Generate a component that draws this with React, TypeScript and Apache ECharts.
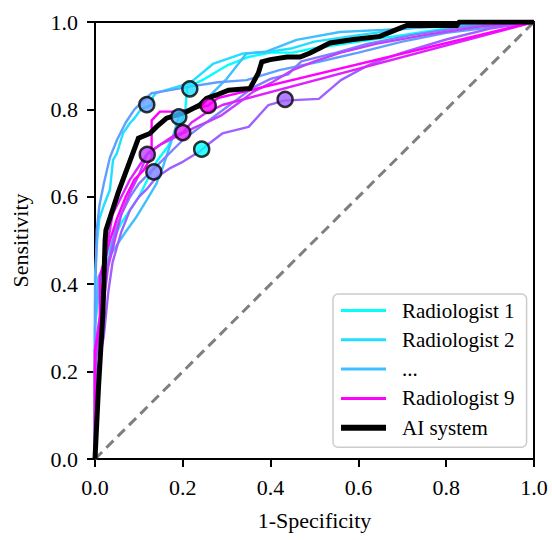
import { useEffect, useRef } from "react";
import * as echarts from "echarts";

// ---- data ----
const radiologistNames = [
  "Radiologist 1",
  "Radiologist 2",
  "...",
  "Radiologist 4",
  "Radiologist 5",
  "Radiologist 6",
  "Radiologist 7",
  "Radiologist 8",
  "Radiologist 9",
];
const radiologistColors = [
  "#00ffff",
  "#20dfff",
  "#40bfff",
  "#609fff",
  "#807fff",
  "#9f60ff",
  "#bf40ff",
  "#df20ff",
  "#ff00ff",
];

const radiologist1 = [
  [0, 0], [0, 0.3], [0.01, 0.4], [0.02, 0.45], [0.04, 0.5], [0.06, 0.54], [0.08, 0.57],
  [0.1, 0.6], [0.12, 0.64], [0.14, 0.68], [0.166, 0.715], [0.19, 0.76], [0.205, 0.79],
  [0.21, 0.85], [0.25, 0.87], [0.3, 0.9], [0.35, 0.92], [0.4, 0.93], [0.45, 0.93],
  [0.5, 0.94], [0.6, 0.955], [0.7, 0.97], [0.8, 0.985], [1, 1],
];
const radiologist2 = [
  [0, 0], [0, 0.42], [0.005, 0.5], [0.01, 0.55], [0.02, 0.58], [0.034, 0.616], [0.041, 0.684],
  [0.05, 0.7], [0.064, 0.746], [0.08, 0.769], [0.09, 0.78], [0.106, 0.802], [0.129, 0.81],
  [0.132, 0.829], [0.14, 0.838], [0.216, 0.86], [0.27, 0.905], [0.338, 0.928], [0.399, 0.932],
  [0.45, 0.94], [0.5, 0.955], [0.6, 0.97], [0.75, 0.99], [1, 1],
];
const radiologist3 = [
  [0, 0], [0, 0.3], [0.005, 0.38], [0.008, 0.417], [0.02, 0.44], [0.042, 0.478], [0.07, 0.52],
  [0.095, 0.555], [0.118, 0.593], [0.14, 0.63], [0.155, 0.669], [0.175, 0.73], [0.191, 0.783],
  [0.22, 0.8], [0.26, 0.83], [0.3, 0.87], [0.345, 0.928], [0.39, 0.932], [0.459, 0.959],
  [0.558, 0.977], [0.656, 0.982], [0.8, 0.99], [1, 1],
];
const radiologist4 = [
  [0, 0], [0, 0.35], [0.004, 0.524], [0.01, 0.58], [0.02, 0.63], [0.034, 0.69], [0.05, 0.73],
  [0.07, 0.77], [0.09, 0.8], [0.11, 0.82], [0.129, 0.837], [0.171, 0.844], [0.216, 0.852],
  [0.28, 0.862], [0.345, 0.867], [0.42, 0.89], [0.51, 0.909], [0.6, 0.93], [0.7, 0.955],
  [0.8, 0.975], [1, 1],
];
const radiologist5 = [
  [0, 0], [0, 0.2], [0.01, 0.3], [0.02, 0.38], [0.03, 0.45], [0.045, 0.52], [0.06, 0.56],
  [0.08, 0.6], [0.1, 0.63], [0.12, 0.65], [0.15, 0.68], [0.18, 0.71], [0.2, 0.73], [0.24, 0.76],
  [0.28, 0.79], [0.32, 0.82], [0.36, 0.85], [0.4, 0.87], [0.44, 0.88], [0.47, 0.91],
  [0.55, 0.93], [0.62, 0.95], [0.72, 0.97], [0.85, 0.99], [1, 1],
];
const radiologist6 = [
  [0, 0], [0, 0.18], [0.02, 0.28], [0.03, 0.38], [0.04, 0.45], [0.06, 0.52], [0.08, 0.57],
  [0.1, 0.6], [0.12, 0.62], [0.14, 0.645], [0.17, 0.665], [0.2, 0.68], [0.24, 0.705],
  [0.26, 0.722], [0.29, 0.745], [0.35, 0.76], [0.395, 0.81], [0.43, 0.82], [0.51, 0.824],
  [0.56, 0.867], [0.63, 0.905], [0.7, 0.93], [0.8, 0.96], [0.9, 0.985], [1, 1],
];
const radiologist7 = [
  [0, 0], [0, 0.22], [0.01, 0.3], [0.02, 0.36], [0.03, 0.44], [0.045, 0.5], [0.06, 0.56],
  [0.08, 0.61], [0.1, 0.65], [0.119, 0.697], [0.15, 0.72], [0.19, 0.74], [0.23, 0.76],
  [0.258, 0.772], [0.289, 0.787], [0.326, 0.814], [0.36, 0.84], [0.4, 0.86], [0.45, 0.89],
  [0.5, 0.91], [0.56, 0.93], [0.64, 0.95], [0.75, 0.97], [0.88, 0.99], [1, 1],
];
const radiologist8 = [
  [0, 0], [0, 0.25], [0.01, 0.32], [0.02, 0.36], [0.02, 0.42], [0.03, 0.5], [0.04, 0.56],
  [0.06, 0.6], [0.08, 0.64], [0.1, 0.67], [0.12, 0.7], [0.15, 0.72], [0.18, 0.74], [0.2, 0.747],
  [0.22, 0.77], [0.25, 0.79], [0.29, 0.81], [1, 1],
];
const radiologist9 = [
  [0, 0], [0, 0.25], [0.011, 0.3], [0.011, 0.417], [0.02, 0.45], [0.034, 0.5], [0.05, 0.55],
  [0.07, 0.6], [0.09, 0.64], [0.11, 0.66], [0.129, 0.692], [0.129, 0.775], [0.148, 0.795],
  [0.182, 0.795], [0.22, 0.8], [0.258, 0.809], [0.28, 0.826], [1, 1],
];
const radiologistCurves = [
  radiologist1, radiologist2, radiologist3, radiologist4, radiologist5,
  radiologist6, radiologist7, radiologist8, radiologist9,
];

const aiSystem = [
  [0, 0], [0.008, 0.165], [0.018, 0.334], [0.023, 0.5], [0.025, 0.524], [0.053, 0.61],
  [0.099, 0.734], [0.125, 0.745], [0.14, 0.76], [0.163, 0.78], [0.186, 0.787], [0.209, 0.795],
  [0.239, 0.81], [0.254, 0.825], [0.277, 0.833], [0.304, 0.844], [0.353, 0.848], [0.372, 0.883],
  [0.38, 0.909], [0.399, 0.914], [0.437, 0.92], [0.467, 0.92], [0.49, 0.929], [0.535, 0.952],
  [0.588, 0.96], [0.649, 0.967], [0.695, 0.986], [0.71, 0.992], [0.824, 0.992], [0.83, 1], [1, 1],
];

const chanceLine = [[0, 0], [1, 1]];

// operating point of each radiologist (1-specificity, sensitivity), in radiologist order
const operatingX = [0.243, 0.216, 0.191, 0.118, 0.134, 0.433, 0.119, 0.2, 0.258];
const operatingY = [0.709, 0.847, 0.783, 0.811, 0.657, 0.823, 0.697, 0.747, 0.809];

const legendNames = ["Radiologist 1", "Radiologist 2", "...", "Radiologist 9", "AI system"];

const FONT = "Liberation Serif";

export default function App() {
  const ref = useRef<HTMLDivElement>(null);

  useEffect(() => {
    if (!ref.current) return;
    const chart = echarts.init(ref.current, undefined, { renderer: "svg" });

    const series: any[] = [
      {
        name: "chance",
        type: "line",
        data: chanceLine,
        symbol: "none",
        silent: true,
        z: 1,
        lineStyle: { color: "#7f7f7f", width: 3, type: [10, 6] },
      },
    ];
    radiologistCurves.forEach((curve, i) => {
      series.push({
        name: radiologistNames[i],
        type: "line",
        data: curve,
        symbol: "none",
        z: 2,
        itemStyle: { color: radiologistColors[i] },
        lineStyle: { color: radiologistColors[i], width: 2.4 },
      });
    });
    series.push({
      name: "AI system",
      type: "line",
      data: aiSystem,
      symbol: "none",
      z: 3,
      itemStyle: { color: "#000" },
      lineStyle: { color: "#000", width: 5, join: "miter" },
    });
    series.push({
      name: "operating points",
      type: "scatter",
      z: 4,
      symbolSize: 15,
      data: operatingX.map((x, i) => ({
        value: [x, operatingY[i]],
        itemStyle: { color: radiologistColors[i], borderColor: "#000", borderWidth: 2.5 },
      })),
    });

    const axisCommon = {
      type: "value" as const,
      min: 0,
      max: 1,
      interval: 0.2,
      nameLocation: "middle" as const,
      nameTextStyle: { fontFamily: FONT, fontSize: 22, color: "#000" },
      axisLine: { show: true, lineStyle: { color: "#000", width: 2 } },
      axisTick: { show: true, inside: false, length: 8, lineStyle: { color: "#000", width: 2 } },
      axisLabel: {
        fontFamily: FONT,
        fontSize: 22,
        color: "#000",
        margin: 17,
        formatter: (v: number) => v.toFixed(1),
      },
      splitLine: { show: false },
    };

    chart.setOption({
      animation: false,
      backgroundColor: "#fff",
      grid: {
        left: 95,
        right: 18,
        top: 22,
        bottom: 81,
        show: true,
        borderColor: "#000",
        borderWidth: 2,
      },
      xAxis: { ...axisCommon, name: "1-Specificity", nameGap: 50 },
      yAxis: { ...axisCommon, name: "Sensitivity", nameGap: 64 },
      legend: {
        orient: "vertical",
        left: 333,
        top: 294,
        selectedMode: false,
        itemWidth: 45,
        itemHeight: 6,
        itemGap: 8.3,
        padding: [6, 12, 9, 8],
        backgroundColor: "#fff",
        borderColor: "#cccccc",
        borderWidth: 1.5,
        borderRadius: 5,
        textStyle: {
          fontFamily: FONT,
          fontSize: 21,
          lineHeight: 20,
          color: "#000",
          padding: [0, 0, 0, 11],
        },
        data: legendNames.map((n) => ({
          name: n,
          icon: n === "AI system" ? "path://M0 0H45V6H0Z" : "path://M0 0H45V3H0Z",
        })),
      },
      series,
    });

    return () => chart.dispose();
  }, []);

  return (
    <div
      ref={ref}
      style={{ position: "fixed", left: 0, top: 0, width: 552, height: 540, background: "#fff" }}
    />
  );
}
